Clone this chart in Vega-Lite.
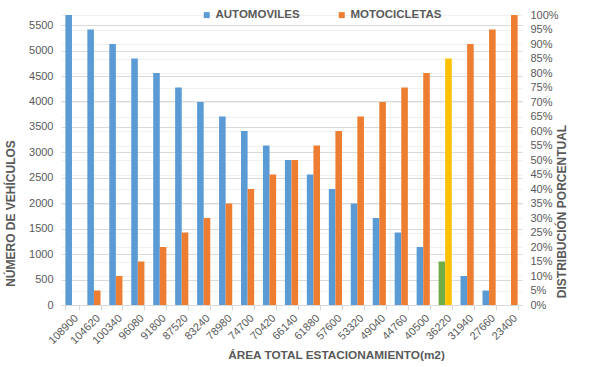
{
  "$schema": "https://vega.github.io/schema/vega-lite/v6.json",
  "width": 461,
  "height": 290,
  "autosize": {"type": "none"},
  "padding": {"left": 61, "top": 15, "right": 73, "bottom": 62},
  "background": "white",
  "config": {
    "font": "Liberation Sans",
    "view": {"stroke": null},
    "axis": {"labelColor": "#595959", "titleColor": "#595959", "labelFontSize": 11, "titleFontSize": 12, "titleFontWeight": "bold"}
  },
  "data": {
    "values": [
      {"area": "108900", "serie": "AUTOMOVILES", "vehiculos": 5700, "porcentaje": 1.00},
      {"area": "108900", "serie": "MOTOCICLETAS", "vehiculos": 0, "porcentaje": 0.00},
      {"area": "104620", "serie": "AUTOMOVILES", "vehiculos": 5415, "porcentaje": 0.95},
      {"area": "104620", "serie": "MOTOCICLETAS", "vehiculos": 285, "porcentaje": 0.05},
      {"area": "100340", "serie": "AUTOMOVILES", "vehiculos": 5130, "porcentaje": 0.90},
      {"area": "100340", "serie": "MOTOCICLETAS", "vehiculos": 570, "porcentaje": 0.10},
      {"area": "96080", "serie": "AUTOMOVILES", "vehiculos": 4845, "porcentaje": 0.85},
      {"area": "96080", "serie": "MOTOCICLETAS", "vehiculos": 855, "porcentaje": 0.15},
      {"area": "91800", "serie": "AUTOMOVILES", "vehiculos": 4560, "porcentaje": 0.80},
      {"area": "91800", "serie": "MOTOCICLETAS", "vehiculos": 1140, "porcentaje": 0.20},
      {"area": "87520", "serie": "AUTOMOVILES", "vehiculos": 4275, "porcentaje": 0.75},
      {"area": "87520", "serie": "MOTOCICLETAS", "vehiculos": 1425, "porcentaje": 0.25},
      {"area": "83240", "serie": "AUTOMOVILES", "vehiculos": 3990, "porcentaje": 0.70},
      {"area": "83240", "serie": "MOTOCICLETAS", "vehiculos": 1710, "porcentaje": 0.30},
      {"area": "78980", "serie": "AUTOMOVILES", "vehiculos": 3705, "porcentaje": 0.65},
      {"area": "78980", "serie": "MOTOCICLETAS", "vehiculos": 1995, "porcentaje": 0.35},
      {"area": "74700", "serie": "AUTOMOVILES", "vehiculos": 3420, "porcentaje": 0.60},
      {"area": "74700", "serie": "MOTOCICLETAS", "vehiculos": 2280, "porcentaje": 0.40},
      {"area": "70420", "serie": "AUTOMOVILES", "vehiculos": 3135, "porcentaje": 0.55},
      {"area": "70420", "serie": "MOTOCICLETAS", "vehiculos": 2565, "porcentaje": 0.45},
      {"area": "66140", "serie": "AUTOMOVILES", "vehiculos": 2850, "porcentaje": 0.50},
      {"area": "66140", "serie": "MOTOCICLETAS", "vehiculos": 2850, "porcentaje": 0.50},
      {"area": "61880", "serie": "AUTOMOVILES", "vehiculos": 2565, "porcentaje": 0.45},
      {"area": "61880", "serie": "MOTOCICLETAS", "vehiculos": 3135, "porcentaje": 0.55},
      {"area": "57600", "serie": "AUTOMOVILES", "vehiculos": 2280, "porcentaje": 0.40},
      {"area": "57600", "serie": "MOTOCICLETAS", "vehiculos": 3420, "porcentaje": 0.60},
      {"area": "53320", "serie": "AUTOMOVILES", "vehiculos": 1995, "porcentaje": 0.35},
      {"area": "53320", "serie": "MOTOCICLETAS", "vehiculos": 3705, "porcentaje": 0.65},
      {"area": "49040", "serie": "AUTOMOVILES", "vehiculos": 1710, "porcentaje": 0.30},
      {"area": "49040", "serie": "MOTOCICLETAS", "vehiculos": 3990, "porcentaje": 0.70},
      {"area": "44760", "serie": "AUTOMOVILES", "vehiculos": 1425, "porcentaje": 0.25},
      {"area": "44760", "serie": "MOTOCICLETAS", "vehiculos": 4275, "porcentaje": 0.75},
      {"area": "40500", "serie": "AUTOMOVILES", "vehiculos": 1140, "porcentaje": 0.20},
      {"area": "40500", "serie": "MOTOCICLETAS", "vehiculos": 4560, "porcentaje": 0.80},
      {"area": "36220", "serie": "AUTOMOVILES", "vehiculos": 855, "porcentaje": 0.15},
      {"area": "36220", "serie": "MOTOCICLETAS", "vehiculos": 4845, "porcentaje": 0.85},
      {"area": "31940", "serie": "AUTOMOVILES", "vehiculos": 570, "porcentaje": 0.10},
      {"area": "31940", "serie": "MOTOCICLETAS", "vehiculos": 5130, "porcentaje": 0.90},
      {"area": "27660", "serie": "AUTOMOVILES", "vehiculos": 285, "porcentaje": 0.05},
      {"area": "27660", "serie": "MOTOCICLETAS", "vehiculos": 5415, "porcentaje": 0.95},
      {"area": "23400", "serie": "AUTOMOVILES", "vehiculos": 0, "porcentaje": 0.00},
      {"area": "23400", "serie": "MOTOCICLETAS", "vehiculos": 5700, "porcentaje": 1.00}
    ]
  },
  "encoding": {
    "x": {
      "field": "area", "type": "nominal", "sort": null,
      "scale": {"paddingInner": 0.4, "paddingOuter": 0.2},
      "axis": {
        "title": "ÁREA TOTAL ESTACIONAMIENTO(m2)", "titleFontSize": 11.8, "labelAngle": -45, "labelFontSize": 11,
        "domainColor": "#D9D9D9", "tickColor": "#D9D9D9", "tickBand": "extent", "tickSize": 5,
        "grid": false, "titleX": 275, "titleAlign": "center", "titlePadding": 4
      }
    },
    "xOffset": {"field": "serie", "type": "nominal", "sort": ["AUTOMOVILES", "MOTOCICLETAS"], "scale": {"paddingInner": 0}}
  },
  "layer": [
    {
      "mark": {"type": "bar", "opacity": 0},
      "encoding": {
        "y": {
          "field": "porcentaje", "type": "quantitative",
          "scale": {"domain": [0, 1]},
          "axis": {
            "orient": "right", "format": ".0%", "labelOverlap": false, "values": [0,0.05,0.1,0.15,0.2,0.25,0.3,0.35,0.4,0.45,0.5,0.55,0.6,0.65,0.7,0.75,0.8,0.85,0.9,0.95,1],
            "title": "DISTRIBUCIÓN PORCENTUAL", "titleAngle": 270, "titleX": 46, "titleY": 196,
            "domain": false, "ticks": false, "labelPadding": 8,
            "grid": true, "gridColor": "#F0F0F0"
          }
        }
      }
    },
    {
      "mark": {"type": "bar"},
      "encoding": {
        "y": {
          "field": "vehiculos", "type": "quantitative",
          "scale": {"domain": [0, 5700], "nice": false},
          "axis": {
            "values": [0,500,1000,1500,2000,2500,3000,3500,4000,4500,5000,5500], "format": "d",
            "title": "NÚMERO DE VEHÍCULOS", "titleAngle": 270, "titleX": -44, "titleY": 198,
            "domain": false, "ticks": false, "labelPadding": 8,
            "grid": true, "gridColor": "#D9D9D9"
          }
        },
        "color": {
          "field": "serie", "type": "nominal",
          "scale": {"domain": ["AUTOMOVILES", "MOTOCICLETAS"], "range": ["#5B9BD5", "#ED7D31"]},
          "condition": [
            {"test": "datum.area === '36220' && datum.serie === 'AUTOMOVILES'", "value": "#70AD47"},
            {"test": "datum.area === '36220' && datum.serie === 'MOTOCICLETAS'", "value": "#FFC000"}
          ],
          "legend": {
            "title": null, "orient": "none", "direction": "horizontal", "columns": 2,
            "legendX": 140, "legendY": -6, "columnPadding": 36,
            "symbolType": "square", "symbolSize": 36, "symbolStrokeWidth": 0,
            "labelFontSize": 11.5, "labelFontWeight": "bold", "labelColor": "#595959", "labelOffset": 3
          }
        }
      }
    }
  ],
  "resolve": {"scale": {"y": "independent"}}
}
